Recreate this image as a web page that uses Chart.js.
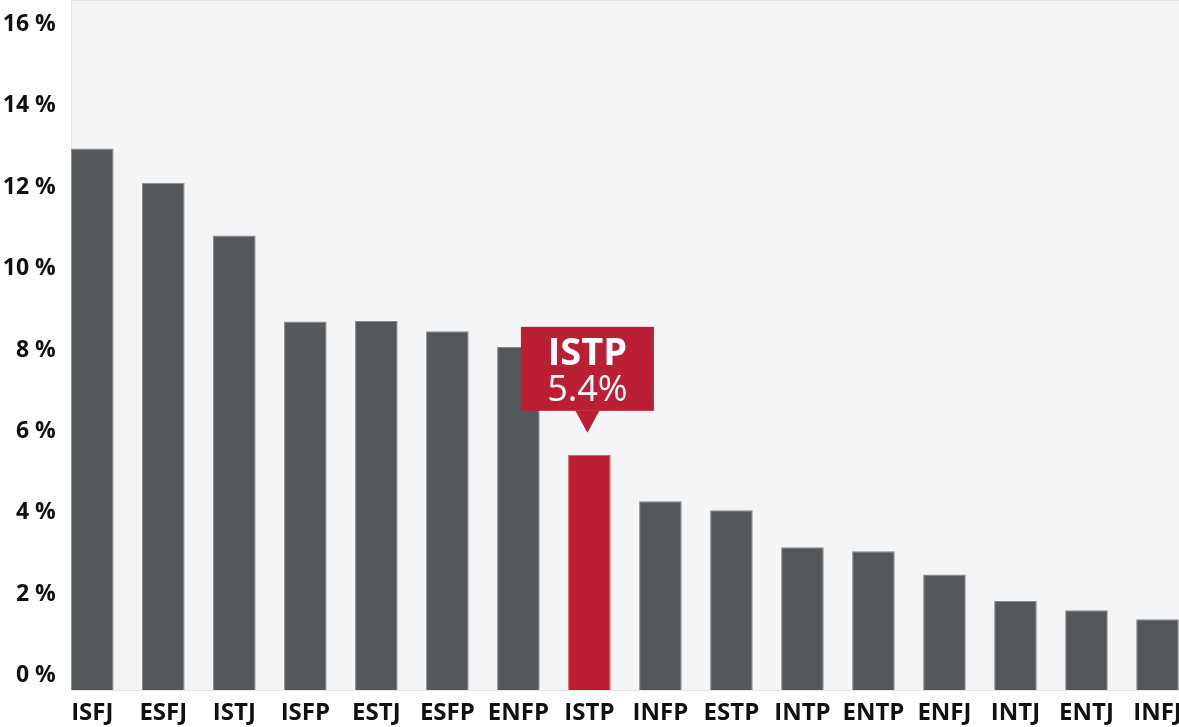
<!DOCTYPE html>
<html>
<head>
<meta charset="utf-8">
<script src="https://cdn.jsdelivr.net/npm/chart.js@4"></script>
<style>
    html, body { margin: 0; padding: 0; background: #ffffff; overflow: hidden; }
    #wrap { width: 1193px; height: 727px; }
</style>
</head>
<body>
<div id="wrap"><canvas id="typeChart" width="1193" height="727"></canvas></div>
<script>
// Chart data
const types = ['ISFJ', 'ESFJ', 'ISTJ', 'ISFP', 'ESTJ', 'ESFP', 'ENFP', 'ISTP',
               'INFP', 'ESTP', 'INTP', 'ENTP', 'ENFJ', 'INTJ', 'ENTJ', 'INFJ'];
const shares = [13.31, 12.47, 11.17, 9.06, 9.07, 8.82, 8.43, 5.78,
                4.64, 4.42, 3.51, 3.41, 2.84, 2.19, 1.96, 1.74];
const yTicks = [0, 2, 4, 6, 8, 10, 12, 14, 16];
const highlightType = 'ISTP';
const highlightLabel = '5.4%';

const GRAY = '#55585b';
const RED = '#bb1f33';
const FONT = "'Open Sans', sans-serif";

// Light plot background behind the bars
const plotBackground = {
    id: 'plotBackground',
    beforeDatasetsDraw(chart) {
        const { ctx, chartArea } = chart;
        const first = chart.getDatasetMeta(0).data[0];
        const left = first.x - first.width / 2;
        ctx.save();
        ctx.fillStyle = '#f4f5f7';
        ctx.fillRect(left, chartArea.top, chartArea.right - left, chartArea.bottom - chartArea.top);
        ctx.strokeStyle = '#e4e5e7';
        ctx.lineWidth = 1;
        ctx.beginPath();
        ctx.moveTo(left + 0.5, chartArea.top + 0.5);
        ctx.lineTo(chartArea.right, chartArea.top + 0.5);
        ctx.moveTo(left + 0.5, chartArea.top);
        ctx.lineTo(left + 0.5, chartArea.bottom + 0.5);
        ctx.lineTo(chartArea.right, chartArea.bottom + 0.5);
        ctx.stroke();
        ctx.restore();
    }
};

// Red callout above the highlighted bar
const callout = {
    id: 'callout',
    afterDatasetsDraw(chart) {
        const idx = types.indexOf(highlightType);
        const bar = chart.getDatasetMeta(0).data[idx];
        const { ctx } = chart;
        const w = 133, h = 84, tip = 22, gap = 22;
        const cx = bar.x - 2;
        const bottom = bar.y - gap - tip;
        const top = bottom - h;

        ctx.save();
        ctx.fillStyle = RED;
        ctx.fillRect(cx - w / 2, top, w, h);
        ctx.beginPath();
        ctx.moveTo(cx - 12, bottom);
        ctx.lineTo(cx + 12, bottom);
        ctx.lineTo(cx, bottom + tip);
        ctx.closePath();
        ctx.fill();

        ctx.fillStyle = '#ffffff';
        ctx.textAlign = 'center';
        ctx.textBaseline = 'alphabetic';
        ctx.font = `bold 38px ${FONT}`;
        ctx.fillText(highlightType, cx, top + 38);
        ctx.font = `36px ${FONT}`;
        ctx.fillText(highlightLabel, cx, top + 74);
        ctx.restore();
    }
};

new Chart(document.getElementById('typeChart'), {
    type: 'bar',
    data: {
        labels: types,
        datasets: [{
            data: shares,
            backgroundColor: types.map(t => t === highlightType ? RED : GRAY),
            borderColor: types.map(t => t === highlightType ? '#d0606d' : '#85888b'),
            borderWidth: 1,
            barPercentage: 0.6,
            categoryPercentage: 1.0
        }]
    },
    options: {
        responsive: false,
        animation: false,
        layout: { padding: 0 },
        plugins: {
            legend: { display: false },
            tooltip: { enabled: false }
        },
        scales: {
            x: {
                type: 'category',
                offset: true,
                grid: { display: false, drawTicks: false },
                border: { display: false },
                ticks: {
                    autoSkip: false,
                    maxRotation: 0,
                    padding: 9,
                    color: '#111111',
                    font: { family: FONT, size: 24, weight: 'bold' }
                },
                afterFit(scale) {
                    scale.height = 37;
                    scale.paddingLeft = 0;
                    scale.paddingRight = 0;
                }
            },
            y: {
                min: 0,
                max: 16.96,
                grid: { display: false, drawTicks: false },
                border: { display: false },
                afterBuildTicks(scale) {
                    scale.ticks = yTicks.map(v => ({ value: v }));
                },
                ticks: {
                    padding: 1,
                    labelOffset: -14.5,
                    color: '#111111',
                    font: { family: FONT, size: 23, weight: 'bold' },
                    callback: v => v + ' %'
                },
                afterFit(scale) {
                    scale.width = 56.8;
                    scale.paddingTop = 0;
                    scale.paddingBottom = 0;
                }
            }
        }
    },
    plugins: [plotBackground, callout]
});
</script>
</body>
</html>
